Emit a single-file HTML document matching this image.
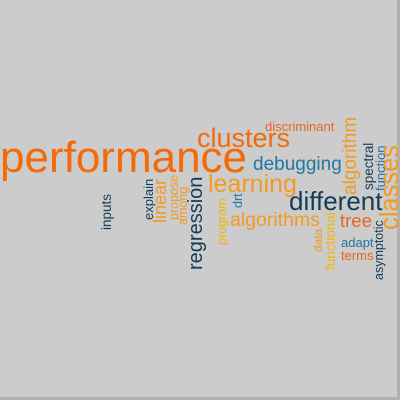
<!DOCTYPE html>
<html><head><meta charset="utf-8"><style>
html,body{margin:0;padding:0;background:#fff}
#wrap{width:400px;height:400px;position:relative;overflow:hidden}
svg{display:block}
text{font-family:"Liberation Sans",Arial,sans-serif}
</style></head><body>
<div id="wrap">
<svg id="cloud" width="400" height="400">
<rect x="0" y="0" width="397" height="397" fill="#cccccc"/>
<rect x="397" y="0" width="3" height="400" fill="#b0b0b0"/>
<rect x="0" y="397" width="400" height="3" fill="#b0b0b0"/>
</svg>
</div>
<script>
const words = ["performance","clusters","discriminant","debugging","learning","different","algorithms","tree","algorithm","spectral","function","classes","data","functional","adapt","terms","asymptotic","regression","linear","explain","propose","among","inputs","program","drt"];
const sizes = [44,27,13,19,25,26,19.5,18.5,19,13.5,13,25.5,12,13.5,13,13,12.5,20,18,13,12.5,12.5,13.5,12.5,12.5];
const colors = ["#f26a0a","#f26a0a","#e8661e","#2277a3","#f39a20","#123c58","#f39a20","#e8661e","#f39a20","#123c58","#2277a3","#f39a20","#f39a20","#f2b705","#2277a3","#e8661e","#123c58","#123c58","#f39a20","#123c58","#f39a20","#f39a20","#123c58","#f2b705","#2277a3"];
const rotated = [0,0,0,0,0,0,0,0,1,1,1,1,1,1,0,0,1,1,1,1,1,1,1,1,1];
const anchorX = [0,197,265,253,208,289,230,340,356,373,385,398,322,335,341,341,383,202,166,153,178,187,111,226,242];
const anchorY = [172,147,131,170,192,210,226,227,195,190,191,230,252,270,247,260,280,270,223,220,220,225,230,245,208];
const svg = document.getElementById('cloud');
for (let i = 0; i < words.length; i++) {
  const t = document.createElementNS('http://www.w3.org/2000/svg','text');
  t.setAttribute('x', anchorX[i]);
  t.setAttribute('y', anchorY[i]);
  t.setAttribute('font-size', sizes[i]);
  t.setAttribute('fill', colors[i]);
  if (rotated[i]) t.setAttribute('transform', 'rotate(-90 ' + anchorX[i] + ' ' + anchorY[i] + ')');
  t.textContent = words[i];
  
  
  svg.appendChild(t);
}
</script>
</body></html>
